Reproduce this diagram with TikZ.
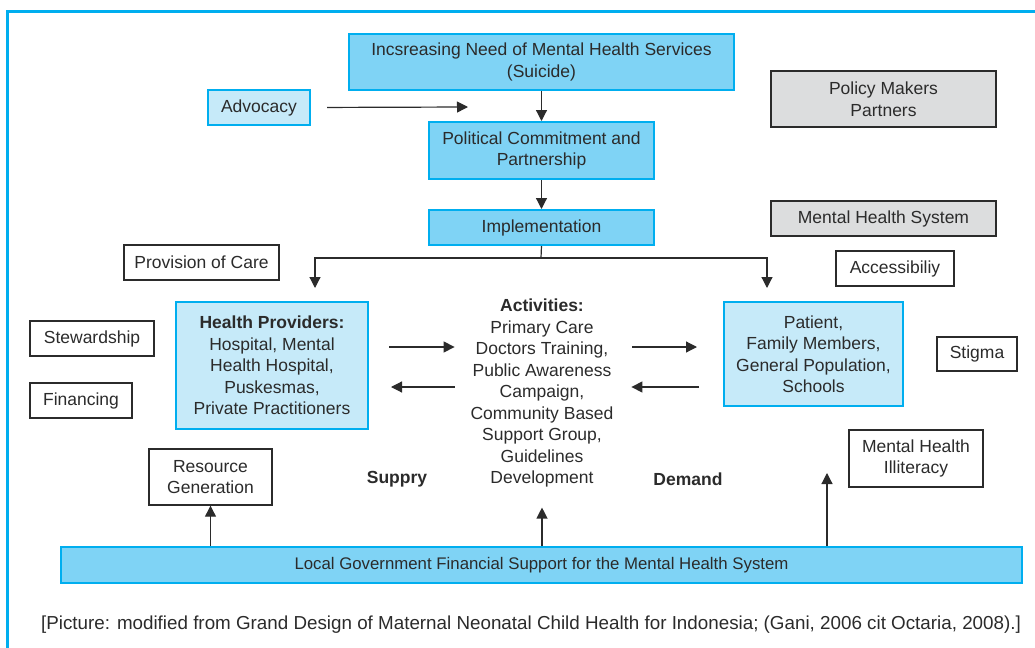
\documentclass[tikz,border=0pt]{standalone}
\usepackage{fontspec}
\setmainfont{Liberation Sans}
\usetikzlibrary{arrows.meta}

\definecolor{framecyan}{HTML}{00AEEF}
\definecolor{deepfill}{HTML}{7FD3F5}
\definecolor{softfill}{HTML}{C6EAF9}
\definecolor{greyfill}{HTML}{DCDDDE}
\definecolor{inkgrey}{HTML}{2B2B2B}

\tikzset{
  box/.style={rectangle, inner sep=0pt, align=center, text=inkgrey,
    font=\fontsize{8.75}{10.75}\selectfont},
  needbox/.style={box, draw=framecyan, fill=deepfill, line width=1pt},
  softbox/.style={box, draw=framecyan, fill=softfill, line width=1pt},
  greybox/.style={box, draw=inkgrey, fill=greyfill, line width=0.7pt},
  plainbox/.style={box, draw=inkgrey, fill=white, line width=0.7pt},
  arr/.style={-{Triangle[length=5.5pt,width=5.5pt]}, line width=0.6pt, draw=inkgrey},
}

\begin{document}
\begin{tikzpicture}[x=0.5pt, y=-0.5pt]
  \useasboundingbox (0,0) rectangle (1035,648);
  \draw[framecyan, line width=1.5pt] (1045,11) -- (7,11) -- (7,660);

  % central chain
  \node[needbox, minimum width=192.5pt, minimum height=28pt] (need) at (541.5,62)
    {Incsreasing Need of Mental Health Services\\(Suicide)};
  \node[softbox, minimum width=51pt, minimum height=17.5pt] (advocacy) at (259,107.5) {Advocacy};
  \node[needbox, minimum width=112.5pt, minimum height=28.5pt] (commit) at (541.5,150.5)
    {Political Commitment and\\Partnership};
  \node[needbox, minimum width=112.5pt, minimum height=17.5pt] (impl) at (541.5,227.5) {Implementation};

  % grey labels
  \node[greybox, minimum width=112.5pt, minimum height=28pt] (policy) at (883.5,99) {Policy Makers\\Partners};
  \node[greybox, minimum width=112.5pt, minimum height=17.5pt] (mhs) at (883.5,218.5) {Mental Health System};

  % white labels
  \node[plainbox, minimum width=77.5pt, minimum height=17.5pt] (care) at (201.5,262.5) {Provision of Care};
  \node[plainbox, minimum width=59pt, minimum height=17.5pt] (access) at (895,268.5) {Accessibiliy};
  \node[plainbox, minimum width=62pt, minimum height=17.5pt] (steward) at (92,338.5) {Stewardship};
  \node[plainbox, minimum width=51pt, minimum height=17.5pt] (financing) at (81,400.5) {Financing};
  \node[plainbox, minimum width=40pt, minimum height=17pt] (stigma) at (977,354) {Stigma};
  \node[plainbox, minimum width=67pt, minimum height=28.5pt] (illiteracy) at (916,458.5) {Mental Health\\Illiteracy};
  \node[plainbox, minimum width=61.5pt, minimum height=28pt] (resource) at (210.5,477) {Resource\\Generation};

  % supply / demand sides
  \node[softbox, minimum width=96pt, minimum height=63.5pt] (providers) at (272,365.5)
    {\textbf{Health Providers:}\\Hospital, Mental\\Health Hospital,\\Puskesmas,\\Private Practitioners};
  \node[box, minimum width=87pt] (activities) at (542,393)
    {\textbf{Activities:}\\Primary Care\\Doctors Training,\\Public Awareness\\Campaign,\\Community Based\\Support Group,\\Guidelines\\Development};
  \node[softbox, minimum width=89.5pt, minimum height=52pt] (patient) at (813.5,354)
    {Patient,\\Family Members,\\General Population,\\Schools};
  \node[box, font=\fontsize{8.75}{10.75}\selectfont\bfseries] (supply) at (397,479) {Suppry};
  \node[box, font=\fontsize{8.75}{10.75}\selectfont\bfseries] (demand) at (688,479) {Demand};

  % base
  \node[needbox, minimum width=480.5pt, minimum height=18pt, font=\fontsize{8.4}{10}\selectfont] (bar) at (541.5,565)
    {Local Government Financial Support for the Mental Health System};
  \node[box, font=\fontsize{9.4}{11}\selectfont] (caption) at (531,625)
    {[Picture: modified from Grand Design of Maternal Neonatal Child Health for Indonesia; (Gani, 2006 cit Octaria, 2008).]};

  \coordinate (advtip) at (468,107);
  \coordinate (split) at (541,258);
  \coordinate (lefttip) at (315,288);
  \coordinate (righttip) at (767,288);
  \coordinate (row1) at (0,347);
  \coordinate (row2) at (0,387);
  \coordinate (demtip) at (827,473);

  % arrows
  \draw[arr, shorten <=8pt] (advocacy.east) -- (advtip);
  \draw[arr] (need) -- (commit);
  \draw[arr] (commit) -- (impl);
  \draw[line width=0.6pt, inkgrey] (impl.south) -- (split);
  \draw[arr] (split) -| (lefttip);
  \draw[arr] (split) -| (righttip);
  \draw[arr, shorten <=10pt] (providers.east |- row1) -- (activities.west |- row1);
  \draw[arr, shorten >=11pt] (activities.west |- row2) -- (providers.east |- row2);
  \draw[arr, shorten <=1.5pt, shorten >=13pt] (activities.east |- row1) -- (patient.west |- row1);
  \draw[arr, shorten <=12pt, shorten >=1pt] (patient.west |- row2) -- (activities.east |- row2);
  \draw[arr] (bar.north -| resource.south) -- (resource.south);
  \draw[arr, shorten >=10pt] (bar.north -| activities.south) -- (activities.south);
  \draw[arr] (bar.north -| demtip) -- (demtip);
\end{tikzpicture}
\end{document}
